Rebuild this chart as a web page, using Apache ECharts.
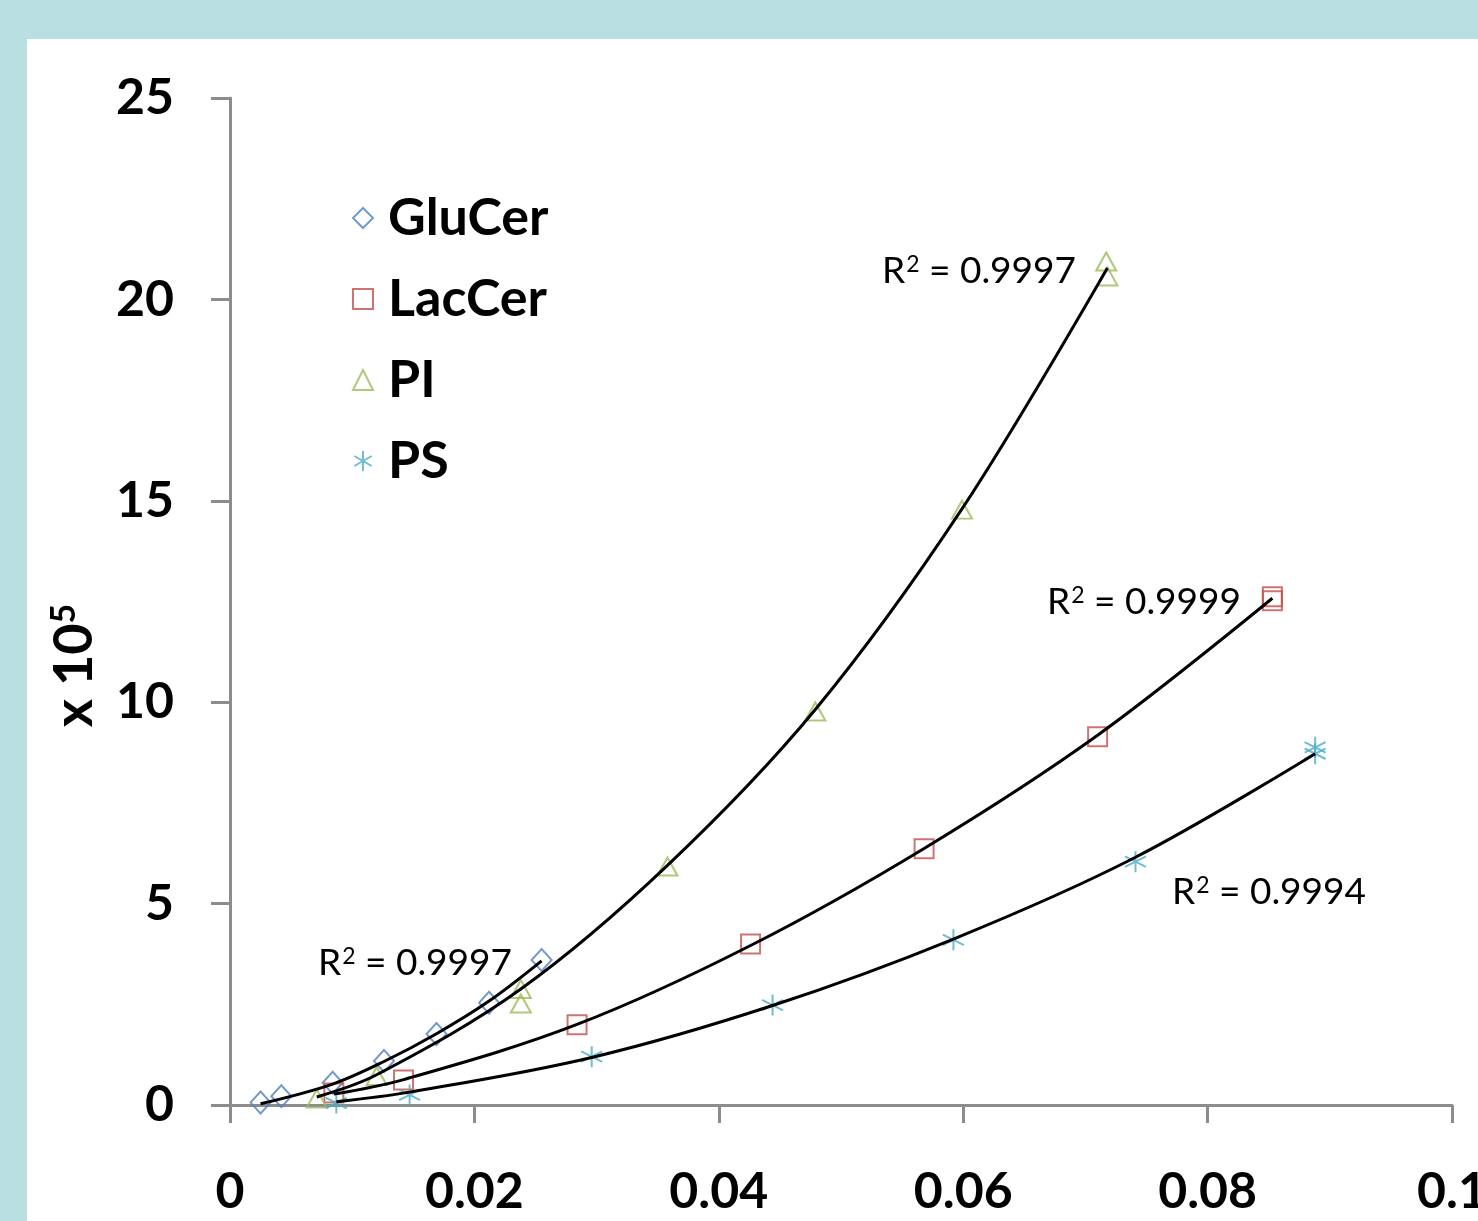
<!DOCTYPE html>
<html>
<head>
<meta charset="utf-8">
<script src="https://cdn.jsdelivr.net/npm/echarts@6/dist/echarts.min.js"></script>
<style>
  html, body {
    margin: 0;
    padding: 0;
    width: 1478px;
    height: 1221px;
    background: #b9dfe2;
    overflow: hidden;
  }
  .chart {
    position: absolute;
    left: 27px;
    top: 39px;
    width: 1451px;
    height: 1182px;
    background: #ffffff;
  }
</style>
</head>
<body>
<div id="chart" class="chart"></div>
<script>
// measured points
const gluX = [0.0025, 0.0042, 0.0084, 0.0126, 0.0169, 0.0212, 0.0255]
const gluY = [0.06, 0.22, 0.55, 1.09, 1.76, 2.54, 3.60]
const lacX = [0.0085, 0.0142, 0.0284, 0.0426, 0.0568, 0.0710, 0.0853, 0.0853]
const lacY = [0.30, 0.62, 1.99, 4.00, 6.36, 9.14, 12.52, 12.62]
const piX = [0.0071, 0.0120, 0.0238, 0.0238, 0.0358, 0.0479, 0.0599, 0.0717, 0.0718]
const piY = [0.16, 0.72, 2.88, 2.52, 5.92, 9.77, 14.78, 20.94, 20.57]
const psX = [0.0087, 0.0147, 0.0296, 0.0444, 0.0592, 0.0741, 0.0888, 0.0888]
const psY = [0.05, 0.25, 1.20, 2.48, 4.10, 6.04, 8.88, 8.72]

// trendlines
const gluTrendX = [0.0025, 0.0084, 0.0126, 0.0169, 0.0212, 0.0255]
const gluTrendY = [0.03, 0.52, 1.08, 1.77, 2.58, 3.58]
const lacTrendX = [0.0085, 0.0142, 0.0284, 0.0426, 0.0568, 0.0710, 0.0853]
const lacTrendY = [0.27, 0.63, 2.00, 3.96, 6.37, 9.18, 12.58]
const piTrendX = [0.0071, 0.0120, 0.0238, 0.0358, 0.0479, 0.0599, 0.0718]
const piTrendY = [0.20, 0.75, 2.88, 5.95, 9.82, 14.80, 20.78]
const psTrendX = [0.0087, 0.0147, 0.0296, 0.0444, 0.0592, 0.0741, 0.0888]
const psTrendY = [0.08, 0.32, 1.18, 2.47, 4.12, 6.15, 8.72]

const seriesNames = ['GluCer', 'LacCer', 'PI', 'PS']
const r2Values = ['0.9997', '0.9999', '0.9997', '0.9994']

const xTicks = [0, 0.02, 0.04, 0.06, 0.08, 0.1]
const yTicks = [0, 5, 10, 15, 20, 25]

const colors = {
  GluCer: '#4f81bd',
  LacCer: '#c0504d',
  PI: '#9bbb59',
  PS: '#4bacc6'
}

const asterisk = 'path://M10,0L10,20M1.34,5L18.66,15M1.34,15L18.66,5'

const zip = (xs, ys) => xs.map((x, i) => [x, ys[i]])

const FONT = 'Lato, "Open Sans", sans-serif'

const scatter = (name, xs, ys, symbol, size) => ({
  name: name,
  type: 'scatter',
  data: zip(xs, ys),
  symbol: symbol,
  symbolSize: size,
  z: 2,
  itemStyle: {
    color: 'rgba(0,0,0,0)',
    borderColor: colors[name],
    borderWidth: 2
  },
  emphasis: { disabled: true }
})

const trend = (name, xs, ys) => ({
  name: name + ' trend',
  type: 'line',
  data: zip(xs, ys),
  smooth: 0.35,
  showSymbol: false,
  symbol: 'none',
  z: 3,
  lineStyle: { color: '#000', width: 3 },
  emphasis: { disabled: true }
})

const r2Text = (value, left, top) => ({
  type: 'text',
  left: left,
  top: top,
  style: {
    text: '{r|R}{s|2}{r| = ' + value + '}',
    rich: {
      r: { fontFamily: FONT, fontSize: 37, fill: '#000', lineHeight: 44 },
      s: { fontFamily: FONT, fontSize: 23, fill: '#000', lineHeight: 44, verticalAlign: 'top', padding: [4, 0, 0, 1] }
    }
  }
})

const chart = echarts.init(document.getElementById('chart'), null, { renderer: 'canvas' })

const option = {
  backgroundColor: '#ffffff',
  animation: false,
  grid: {
    left: 203,
    right: 26,
    top: 59,
    bottom: 116,
    containLabel: false,
    outerBoundsMode: 'none'
  },
  legend: {
    data: seriesNames,
    orient: 'vertical',
    left: 320,
    top: 148,
    itemWidth: 20,
    itemHeight: 20,
    itemGap: 29,
    textStyle: {
      color: '#000',
      fontFamily: FONT,
      fontWeight: 'bold',
      fontSize: 52,
      lineHeight: 52,
      padding: [0, 0, 0, 10]
    }
  },
  xAxis: {
    type: 'value',
    min: xTicks[0],
    max: xTicks[xTicks.length - 1],
    interval: 0.02,
    axisLine: { lineStyle: { color: '#8c8c8c', width: 3 } },
    axisTick: { show: true, inside: false, length: 18, lineStyle: { color: '#8c8c8c', width: 3 } },
    splitLine: { show: false },
    axisLabel: {
      color: '#000',
      fontFamily: FONT,
      fontWeight: 'bold',
      fontSize: 50,
      margin: 62,
      showMaxLabel: true,
      formatter: (v) => String(v)
    }
  },
  yAxis: {
    type: 'value',
    min: yTicks[0],
    max: yTicks[yTicks.length - 1],
    interval: 5,
    name: '{a|x 10}{b|5}',
    nameLocation: 'middle',
    nameRotate: 90,
    nameGap: 127,
    nameTextStyle: {
      padding: [0, 128, 0, 0],
      rich: {
        a: { fontFamily: FONT, fontWeight: 'bold', fontSize: 54, color: '#000', lineHeight: 56 },
        b: { fontFamily: FONT, fontWeight: 'bold', fontSize: 34, color: '#000', lineHeight: 56, verticalAlign: 'top' }
      }
    },
    axisLine: { lineStyle: { color: '#8c8c8c', width: 3 } },
    axisTick: { show: true, inside: false, length: 19, lineStyle: { color: '#8c8c8c', width: 3 } },
    splitLine: { show: false },
    axisLabel: {
      color: '#000',
      fontFamily: FONT,
      fontWeight: 'bold',
      fontSize: 50,
      margin: 56
    }
  },
  graphic: [
    r2Text(r2Values[0], 291, 902),
    r2Text(r2Values[1], 1020, 541),
    r2Text(r2Values[2], 855, 210),
    r2Text(r2Values[3], 1145, 831)
  ],
  series: [
    scatter('GluCer', gluX, gluY, 'diamond', [20, 22]),
    scatter('LacCer', lacX, lacY, 'rect', 19),
    scatter('PI', piX, piY, 'triangle', [20, 18]),
    scatter('PS', psX, psY, asterisk, 21),
    trend('GluCer', gluTrendX, gluTrendY),
    trend('LacCer', lacTrendX, lacTrendY),
    trend('PI', piTrendX, piTrendY),
    trend('PS', psTrendX, psTrendY)
  ]
}

chart.setOption(option)
</script>
</body>
</html>
